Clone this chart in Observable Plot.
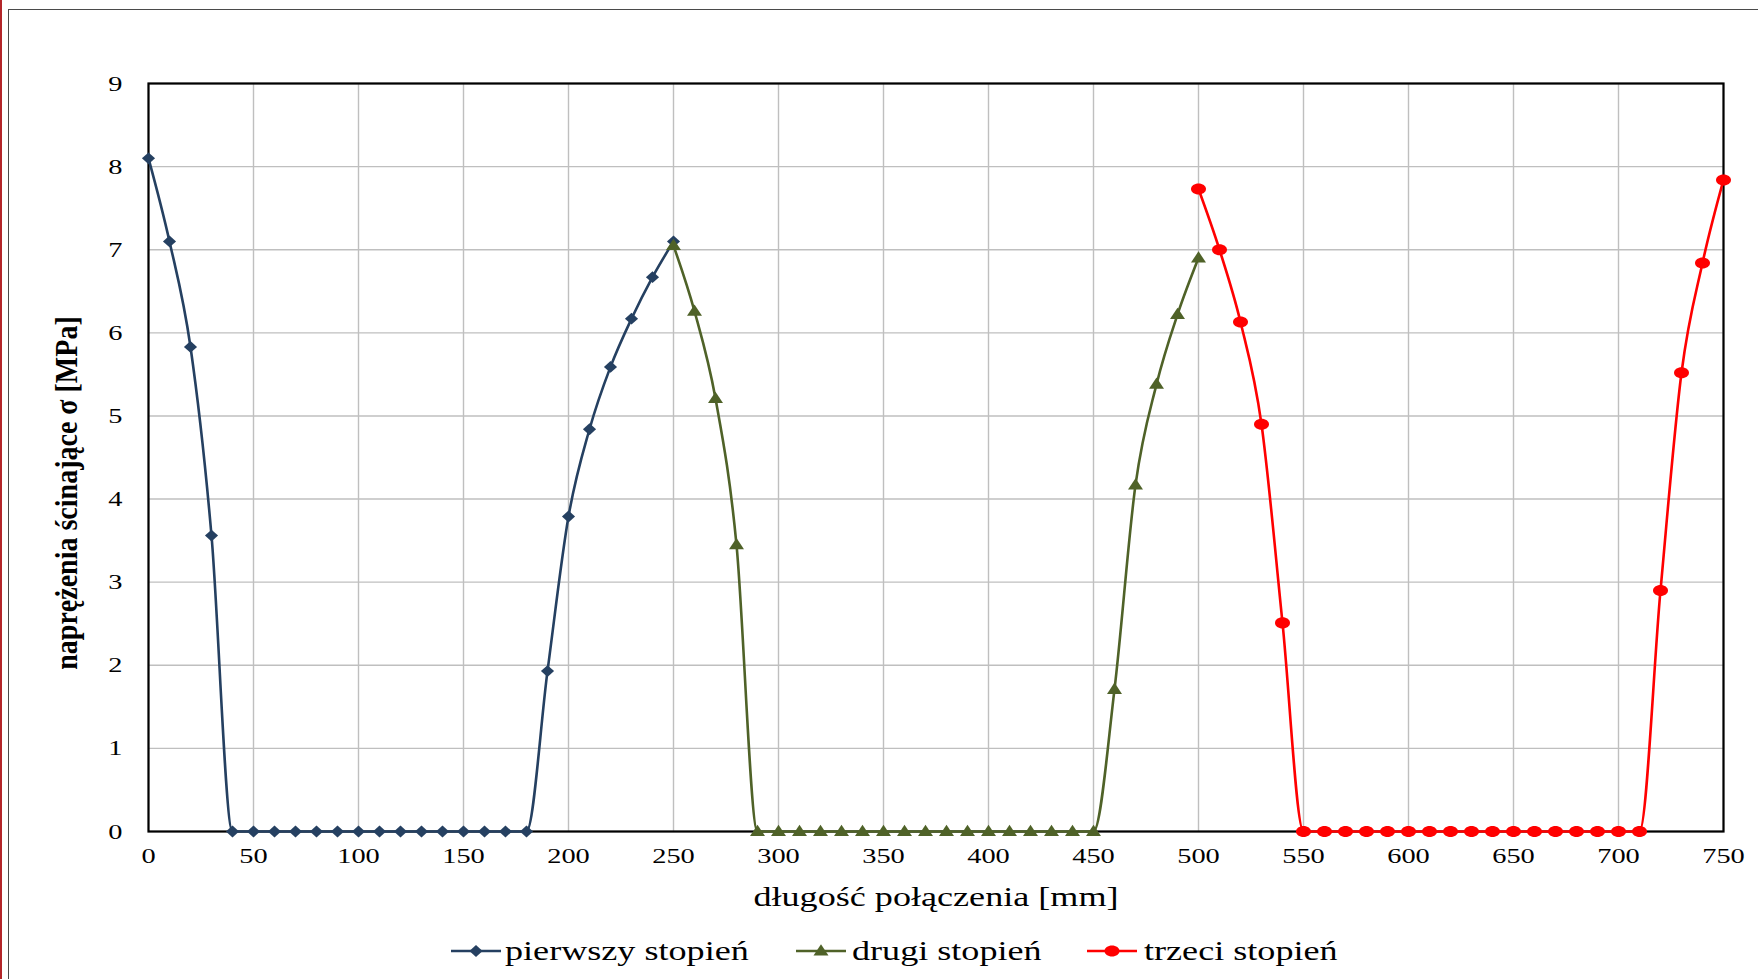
<!DOCTYPE html>
<html>
<head>
<meta charset="utf-8">
<script src="https://cdn.jsdelivr.net/npm/d3@7"></script>
<script src="https://cdn.jsdelivr.net/npm/@observablehq/plot@0.6"></script>
<style>
  html, body { margin: 0; padding: 0; background: #fff; width: 1758px; height: 979px; overflow: hidden;
    font-family: "Liberation Serif", "Times New Roman", serif; }
  #edge { position: absolute; left: 0; top: 0; width: 2px; height: 979px; background: #b3262a; }
  #box { position: absolute; left: 8px; top: 9px; width: 1780px; height: 1000px; border: 1.5px solid #4a4a4a; }
  #chart { position: absolute; left: 0; top: 0; }
  #ytitle { position: absolute; left: 67px; top: 493px; transform: translate(-50%, -50%) rotate(-90deg) scaleY(1.1);
    font-weight: bold; font-size: 28px; white-space: nowrap; color: #000; }
  #xtitle { position: absolute; left: 936px; top: 897px; transform: translate(-50%, -50%) scaleX(1.29);
    font-size: 28px; white-space: nowrap; color: #000; }
  .legline { position: absolute; top: 941px; }
  .legtext { position: absolute; top: 951px; transform: translateY(-50%) scaleX(1.29); transform-origin: 0 50%;
    font-size: 28px; white-space: nowrap; color: #000; }
</style>
</head>
<body>
<div id="edge"></div>
<div id="box"></div>
<div id="chart"></div>
<div id="ytitle">naprężenia ścinające σ [MPa]</div>
<div id="xtitle">długość połączenia [mm]</div>
<div id="legend"></div>
<script>
// Shear stress along the joint length, three stages
const series1Name = "pierwszy stopień";
const series1X = [0, 10, 20, 30, 40, 50, 60, 70, 80, 90, 100, 110, 120, 130, 140, 150, 160, 170, 180, 190, 200, 210, 220, 230, 240, 250];
const series1Y = [8.10, 7.10, 5.83, 3.56, 0, 0, 0, 0, 0, 0, 0, 0, 0, 0, 0, 0, 0, 0, 0, 1.93, 3.79, 4.84, 5.59, 6.17, 6.67, 7.10];

const series2Name = "drugi stopień";
const series2X = [250, 260, 270, 280, 290, 300, 310, 320, 330, 340, 350, 360, 370, 380, 390, 400, 410, 420, 430, 440, 450, 460, 470, 480, 490, 500];
const series2Y = [7.05, 6.26, 5.21, 3.45, 0, 0, 0, 0, 0, 0, 0, 0, 0, 0, 0, 0, 0, 0, 0, 0, 0, 1.71, 4.17, 5.38, 6.22, 6.90];

const series3Name = "trzeci stopień";
const series3X = [500, 510, 520, 530, 540, 550, 560, 570, 580, 590, 600, 610, 620, 630, 640, 650, 660, 670, 680, 690, 700, 710, 720, 730, 740, 750];
const series3Y = [7.73, 7.00, 6.13, 4.90, 2.51, 0, 0, 0, 0, 0, 0, 0, 0, 0, 0, 0, 0, 0, 0, 0, 0, 0, 2.90, 5.52, 6.84, 7.84];

const xTicks = [0, 50, 100, 150, 200, 250, 300, 350, 400, 450, 500, 550, 600, 650, 700, 750];
const yTicks = [0, 1, 2, 3, 4, 5, 6, 7, 8, 9];

const colors = { s1: "#254061", s2: "#4f6228", s3: "#ff0000" };

// Horizontal stretch applied to horizontal text (wide serif look)
const stretch = 1.29;

// Marker shapes: diamond, triangle, flattened circle
const diamond = { draw(ctx, size) {
  const r = Math.sqrt(size / Math.PI), w = r * 1.43, h = r * 1.28;
  ctx.moveTo(-w, 0); ctx.lineTo(0, -h); ctx.lineTo(w, 0); ctx.lineTo(0, h); ctx.closePath();
}};
const triangleUp = { draw(ctx, size) {
  const r = Math.sqrt(size / Math.PI), w = r * 1.63, h = r * 2.45;
  ctx.moveTo(0, -h * 0.6); ctx.lineTo(w, h * 0.4); ctx.lineTo(-w, h * 0.4); ctx.closePath();
}};
const flatCircle = { draw(ctx, size) {
  const r = Math.sqrt(size / Math.PI), rx = r * 1.63, ry = r * 1.2, k = 0.5523;
  ctx.moveTo(rx, 0);
  ctx.bezierCurveTo(rx, ry * k, rx * k, ry, 0, ry);
  ctx.bezierCurveTo(-rx * k, ry, -rx, ry * k, -rx, 0);
  ctx.bezierCurveTo(-rx, -ry * k, -rx * k, -ry, 0, -ry);
  ctx.bezierCurveTo(rx * k, -ry, rx, -ry * k, rx, 0);
  ctx.closePath();
}};

const toRows = (xs, ys) => xs.map((x, i) => ({ x, y: ys[i] }));
const d1 = toRows(series1X, series1Y);
const d2 = toRows(series2X, series2Y);
const d3rows = toRows(series3X, series3Y);

const W = 1758, H = 920;
const plot = Plot.plot({
  width: W,
  height: H,
  marginLeft: 148,
  marginRight: W - 1723,
  marginTop: 83,
  marginBottom: H - 831,
  style: { fontFamily: "'Liberation Serif', 'Times New Roman', serif", color: "#000", background: "transparent" },
  x: { domain: [0, 750] },
  y: { domain: [0, 9] },
  marks: [
    Plot.gridX(xTicks, { stroke: "#bfbfbf", strokeOpacity: 1, strokeWidth: 1.4 }),
    Plot.gridY(yTicks, { stroke: "#bfbfbf", strokeOpacity: 1, strokeWidth: 1.4 }),
    Plot.axisX(xTicks, { tickSize: 0, tickPadding: 16, fontSize: 22, label: null, fill: "#000", tickFormat: d3.format("d") }),
    Plot.axisY(yTicks, { tickSize: 0, tickPadding: 26, fontSize: 22, label: null, fill: "#000", tickFormat: d3.format("d") }),
    Plot.frame({ stroke: "#000", strokeWidth: 2.2 }),
    Plot.line(d1, { x: "x", y: "y", stroke: colors.s1, strokeWidth: 2.6, curve: "monotone-x" }),
    Plot.line(d2, { x: "x", y: "y", stroke: colors.s2, strokeWidth: 2.6, curve: "monotone-x" }),
    Plot.line(d3rows, { x: "x", y: "y", stroke: colors.s3, strokeWidth: 2.6, curve: "monotone-x" }),
    Plot.dot(d1, { x: "x", y: "y", r: 4.6, symbol: diamond, fill: colors.s1, stroke: "none" }),
    Plot.dot(d2, { x: "x", y: "y", r: 4.6, symbol: triangleUp, fill: colors.s2, stroke: "none" }),
    Plot.dot(d3rows, { x: "x", y: "y", r: 4.6, symbol: flatCircle, fill: colors.s3, stroke: "none" })
  ]
});
document.getElementById("chart").appendChild(plot);

// Widen the tick labels around their own anchor point
d3.select(plot).selectAll("g[aria-label$='tick label'] text").each(function () {
  const t = this.getAttribute("transform") || "";
  this.setAttribute("transform", t + ` scale(${stretch},1)`);
});

// Legend: line sample with marker, then series name
const legendItems = [
  { name: series1Name, color: colors.s1, symbol: diamond, lineLeft: 451, textLeft: 505 },
  { name: series2Name, color: colors.s2, symbol: triangleUp, lineLeft: 796, textLeft: 852 },
  { name: series3Name, color: colors.s3, symbol: flatCircle, lineLeft: 1087, textLeft: 1144 }
];
const legend = document.getElementById("legend");
for (const item of legendItems) {
  const sw = d3.create("svg").attr("class", "legline").attr("width", 50).attr("height", 20)
    .style("left", item.lineLeft + "px");
  sw.append("line").attr("x1", 0).attr("x2", 50).attr("y1", 10).attr("y2", 10)
    .attr("stroke", item.color).attr("stroke-width", 2.6);
  sw.append("path").attr("transform", "translate(25,10)")
    .attr("d", d3.symbol(item.symbol, 4.6 * 4.6 * Math.PI)()).attr("fill", item.color);
  legend.appendChild(sw.node());
  const span = document.createElement("div");
  span.className = "legtext";
  span.style.left = item.textLeft + "px";
  span.textContent = item.name;
  legend.appendChild(span);
}
</script>
</body>
</html>
